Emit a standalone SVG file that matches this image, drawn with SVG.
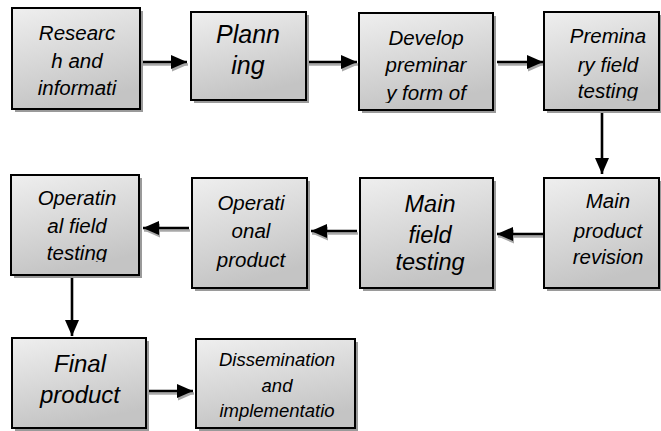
<svg xmlns="http://www.w3.org/2000/svg" width="661" height="431" viewBox="0 0 661 431">
<style>
.box{fill:url(#g);stroke:#000;stroke-width:2}
.sh{fill:#9a9a9a}
.t{font-family:"Liberation Sans",Arial,sans-serif;font-style:italic;text-anchor:middle;fill:#000}
.c{fill:none;stroke:#000;stroke-width:2.6}
.cs{fill:none;stroke:#a8a8a8;stroke-width:2.6}
</style>
<defs>
<linearGradient id="g" x1="0" y1="0" x2="0.3" y2="1">
<stop offset="0" stop-color="#efefef"/>
<stop offset="1" stop-color="#c4c4c4"/>
</linearGradient>
<marker id="ah" markerUnits="userSpaceOnUse" markerWidth="17" markerHeight="15" refX="16" refY="7" orient="auto">
<path d="M0,0 L16,7 L0,14 z" fill="#000"/>
</marker>
<marker id="ahs" markerUnits="userSpaceOnUse" markerWidth="17" markerHeight="15" refX="16" refY="7" orient="auto">
<path d="M0,0 L16,7 L0,14 z" fill="#a8a8a8"/>
</marker>
<clipPath id="c3"><rect x="359" y="13" width="134" height="90"/></clipPath>
<clipPath id="c4"><rect x="544" y="12" width="115" height="88.5"/></clipPath>
<clipPath id="c8"><rect x="11" y="175" width="128" height="87"/></clipPath>
</defs>
<rect width="661" height="431" fill="#fff"/>

<g id="connectors">
<g transform="translate(1,2.5)">
<path class="cs" marker-end="url(#ahs)" d="M142 62 H187"/>
<path class="cs" marker-end="url(#ahs)" d="M308 62 H357"/>
<path class="cs" marker-end="url(#ahs)" d="M497 62 H543"/>
<path class="cs" marker-end="url(#ahs)" d="M543 234 H497"/>
<path class="cs" marker-end="url(#ahs)" d="M357 231 H311"/>
<path class="cs" marker-end="url(#ahs)" d="M189 228 H143"/>
<path class="cs" marker-end="url(#ahs)" d="M148 391 H193"/>
</g>
<path class="c" marker-end="url(#ah)" d="M142 62 H187"/>
<path class="c" marker-end="url(#ah)" d="M308 62 H357"/>
<path class="c" marker-end="url(#ah)" d="M497 62 H543"/>
<path class="c" marker-end="url(#ah)" d="M602 111 V174"/>
<path class="c" marker-end="url(#ah)" d="M543 234 H497"/>
<path class="c" marker-end="url(#ah)" d="M357 231 H311"/>
<path class="c" marker-end="url(#ah)" d="M189 228 H143"/>
<path class="c" marker-end="url(#ah)" d="M72 276 V336"/>
<path class="c" marker-end="url(#ah)" d="M148 391 H193"/>
</g>

<g id="n1">
<rect class="sh" x="15" y="11" width="128" height="101"/>
<rect class="box" x="12" y="8" width="128" height="101"/>
<text class="t" font-size="20.5"><tspan x="77" y="40">Researc</tspan><tspan x="77" y="68">h and</tspan><tspan x="77" y="95">informati</tspan></text>
</g>
<g id="n2">
<rect class="sh" x="194" y="15" width="115" height="88"/>
<rect class="box" x="191" y="12" width="115" height="88"/>
<text class="t" font-size="25"><tspan x="248" y="43">Plann</tspan><tspan x="248" y="74">ing</tspan></text>
</g>
<g id="n3">
<rect class="sh" x="362" y="16" width="134" height="97"/>
<rect class="box" x="359" y="13" width="134" height="97"/>
<text class="t" font-size="20.5" clip-path="url(#c3)"><tspan x="426" y="45">Develop</tspan><tspan x="426" y="72">preminar</tspan><tspan x="426" y="100">y form of</tspan></text>
</g>
<g id="n4">
<rect class="sh" x="547" y="15" width="115" height="98"/>
<rect class="box" x="544" y="12" width="115" height="98"/>
<text class="t" font-size="20.5" clip-path="url(#c4)"><tspan x="608" y="43">Premina</tspan><tspan x="608" y="72">ry field</tspan><tspan x="608" y="98">testing</tspan></text>
</g>
<g id="n5">
<rect class="sh" x="547" y="181" width="115" height="110"/>
<rect class="box" x="544" y="178" width="115" height="110"/>
<text class="t" font-size="20.5"><tspan x="608" y="208">Main</tspan><tspan x="608" y="238">product</tspan><tspan x="608" y="264">revision</tspan></text>
</g>
<g id="n6">
<rect class="sh" x="363" y="181" width="133" height="110"/>
<rect class="box" x="360" y="178" width="133" height="110"/>
<text class="t" font-size="23.5"><tspan x="430" y="212">Main</tspan><tspan x="430" y="243">field</tspan><tspan x="430" y="270">testing</tspan></text>
</g>
<g id="n7">
<rect class="sh" x="195" y="181" width="115" height="110"/>
<rect class="box" x="192" y="178" width="115" height="110"/>
<text class="t" font-size="20.5"><tspan x="251" y="210">Operati</tspan><tspan x="251" y="238">onal</tspan><tspan x="251" y="267">product</tspan></text>
</g>
<g id="n8">
<rect class="sh" x="14" y="178" width="128" height="100"/>
<rect class="box" x="11" y="175" width="128" height="100"/>
<text class="t" font-size="20.5" clip-path="url(#c8)"><tspan x="77" y="205">Operatin</tspan><tspan x="77" y="233">al field</tspan><tspan x="77" y="260">testing</tspan></text>
</g>
<g id="n9">
<rect class="sh" x="15" y="341" width="134" height="90"/>
<rect class="box" x="12" y="338" width="134" height="90"/>
<text class="t" font-size="24"><tspan x="80" y="372">Final</tspan><tspan x="80" y="403">product</tspan></text>
</g>
<g id="n10">
<rect class="sh" x="199" y="342" width="159" height="89"/>
<rect class="box" x="196" y="339" width="159" height="89"/>
<text class="t" font-size="18.5"><tspan x="277" y="366">Dissemination</tspan><tspan x="277" y="392">and</tspan><tspan x="277" y="417">implementatio</tspan></text>
</g>
</svg>
